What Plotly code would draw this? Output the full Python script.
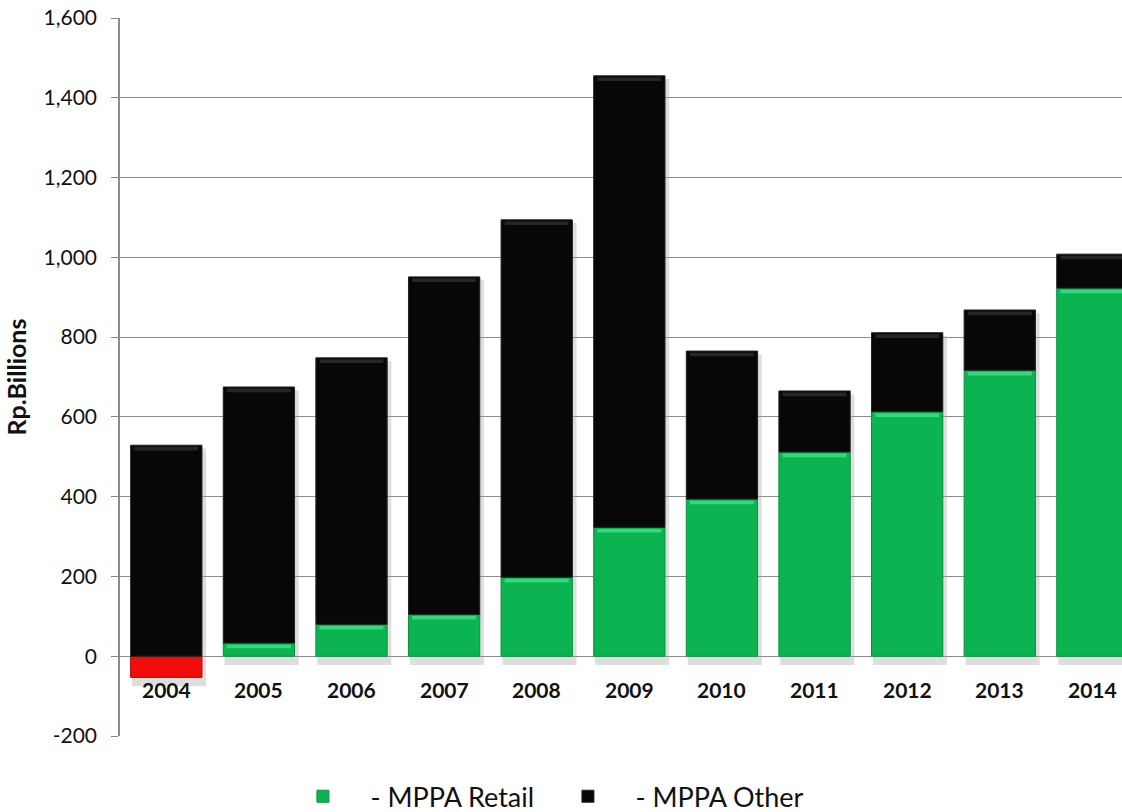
import plotly.graph_objects as go

years = ["2004", "2005", "2006", "2007", "2008", "2009", "2010", "2011", "2012", "2013", "2014"]
mppa_retail = [-53, 33, 80, 105, 198, 323, 394, 512, 613, 717, 923]
mppa_other = [529, 642, 668, 846, 896, 1132, 371, 153, 198, 151, 85]
y_ticks = [-200, 0, 200, 400, 600, 800, 1000, 1200, 1400, 1600]

FONT = "Lato"
GREEN = "#0bb450"
GREEN_HI = "#33d97a"
RED = "#f20d0d"
BLACK = "#070707"
BLACK_HI = "#262626"
SHADOW = "rgba(160,160,160,0.35)"
GRID = "#8c8c8c"
TEXT = "#111111"
BAR_W = 0.77

x_idx = list(range(len(years)))
# positive retail values in green, a negative year in red
retail_pos = [v if v >= 0 else None for v in mppa_retail]
retail_neg = [v if v < 0 else None for v in mppa_retail]
# stack extents per year
bar_top = [max(r, 0) + o for r, o in zip(mppa_retail, mppa_other)]
bar_bottom = [min(r, 0) for r in mppa_retail]

fig = go.Figure()

# soft drop shadow behind each stacked column
fig.add_trace(go.Bar(
    x=[i + 0.03 for i in x_idx],
    base=[b - 22 for b in bar_bottom],
    y=[t - b + 14 for t, b in zip(bar_top, bar_bottom)],
    width=BAR_W + 0.03, marker=dict(color=SHADOW, line=dict(width=0)),
    showlegend=False, hoverinfo="skip",
))

fig.add_trace(go.Bar(
    x=x_idx, y=retail_pos, name="    - MPPA Retail", width=BAR_W, xaxis="x2",
    marker=dict(color=GREEN, line=dict(color="#08923f", width=1)),
))
fig.add_trace(go.Bar(
    x=x_idx, y=retail_neg, name="MPPA Retail (negative)", showlegend=False,
    width=BAR_W, xaxis="x2",
    marker=dict(color=RED, line=dict(color="#b00000", width=1)),
))
fig.add_trace(go.Bar(
    x=x_idx, y=mppa_other, name="    - MPPA Other", width=BAR_W, xaxis="x2",
    marker=dict(color=BLACK, line=dict(color="#222222", width=1)),
))

# bevel highlight along the top edge of each segment
fig.add_trace(go.Bar(
    x=x_idx, base=[r - 13 if r > 20 else None for r in mppa_retail],
    y=[9 if r > 20 else None for r in mppa_retail],
    width=BAR_W - 0.08, xaxis="x2", marker=dict(color=GREEN_HI, line=dict(width=0)),
    showlegend=False, hoverinfo="skip",
))
fig.add_trace(go.Bar(
    x=x_idx, base=[t - 13 for t in bar_top], y=[9] * len(years),
    width=BAR_W - 0.08, xaxis="x2", marker=dict(color=BLACK_HI, line=dict(width=0)),
    showlegend=False, hoverinfo="skip",
))

# year labels sit under the zero line
for i, yr in enumerate(years):
    fig.add_annotation(
        x=i, y=0, xref="x", yref="y", text=f"<b>{yr}</b>", showarrow=False,
        yanchor="top", yshift=-19, font=dict(family=FONT, size=21, color=TEXT),
    )

x_axis_common = dict(
    range=[-0.5, 10.32], showticklabels=False, showgrid=False,
    zeroline=False, showline=False, ticks="",
)

fig.update_layout(
    width=1122, height=812,
    margin=dict(l=120, r=0, t=18, b=76, autoexpand=False),
    paper_bgcolor="white", plot_bgcolor="white",
    barmode="relative",
    font=dict(family=FONT, color=TEXT),
    showlegend=True,
    legend=dict(
        orientation="h", xref="container", yref="container",
        x=0.27, xanchor="left", y=0.049, yanchor="top",
        font=dict(family=FONT, size=27, color=TEXT),
        itemwidth=30, tracegroupgap=0, entrywidth=220, entrywidthmode="pixels",
        bgcolor="rgba(0,0,0,0)",
    ),
    xaxis=x_axis_common,
    xaxis2=dict(overlaying="x", **x_axis_common),
    yaxis=dict(
        range=[-200, 1600], tickvals=y_ticks,
        ticktext=[f"{v:,}" for v in y_ticks],
        tickfont=dict(family=FONT, size=21, color=TEXT),
        showgrid=True, gridcolor=GRID, gridwidth=1,
        zeroline=True, zerolinecolor=GRID, zerolinewidth=1,
        showline=True, linecolor=GRID, linewidth=1.5,
        ticks="outside", ticklen=7, tickcolor=GRID, ticklabelstandoff=10,
        title=dict(text="<b>Rp.Billions</b>", font=dict(family=FONT, size=25, color=TEXT), standoff=10),
    ),
)

fig.write_html("out.html")
